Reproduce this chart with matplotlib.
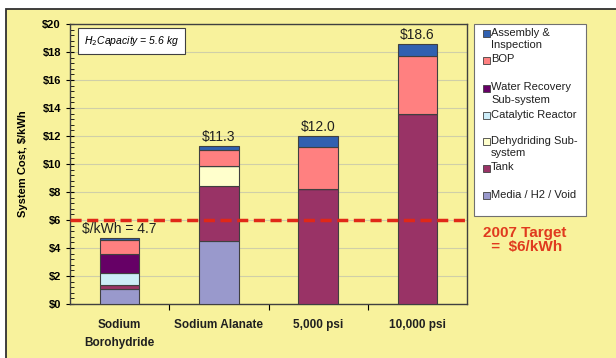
import matplotlib
matplotlib.use("Agg")
import matplotlib.pyplot as plt
import numpy as np
from matplotlib.patches import Rectangle
from matplotlib.ticker import MultipleLocator, FuncFormatter

plt.rcParams['font.family'] = ['Liberation Sans', 'DejaVu Sans']

categories = ["Sodium\nBorohydride", "Sodium Alanate", "5,000 psi", "10,000 psi"]
media = [1.05, 4.5, 0, 0]
tank = [0.3, 3.95, 8.2, 13.6]
dehydriding = [0, 1.4, 0, 0]
catalytic = [0.85, 0, 0, 0]
water = [1.35, 0, 0, 0]
bop = [1.0, 1.15, 3.05, 4.1]
assembly = [0.15, 0.3, 0.75, 0.9]
totals = [4.7, 11.3, 12.0, 18.6]
total_labels = ["$/kWh = 4.7", "$11.3", "$12.0", "$18.6"]
target = 6

names = ["Media / H2 / Void", "Tank", "Dehydriding Sub-\nsystem", "Catalytic Reactor",
         "Water Recovery\nSub-system", "BOP", "Assembly &\nInspection"]
colors = ['#9999CC', '#993366', '#FFFFCC', '#CCECF8', '#660066', '#FF8080', '#3060B0']
series = [media, tank, dehydriding, catalytic, water, bop, assembly]

bg = '#F8F29C'
fig = plt.figure(figsize=(6.16, 3.58), dpi=100)
fig.patch.set_facecolor('white')
fig.patches.append(Rectangle((6/616, -0.05), 1.1, 1 - 9/358 + 0.05, transform=fig.transFigure,
                             facecolor=bg, edgecolor='#303030', linewidth=1.3, zorder=-5))

ax = fig.add_axes([70/616, 1 - 304/358, 397/616, 280/358])
ax.set_facecolor(bg)
ax.set_zorder(1)

x = np.arange(len(categories))
bottom = np.zeros(len(categories))
for vals, c in zip(series, colors):
    ax.bar(x, vals, 0.4, bottom=bottom, color=c, edgecolor='#404040', linewidth=0.8, zorder=3)
    bottom += np.array(vals)

ax.set_xlim(-0.5, 3.5)
ax.set_ylim(0, 20)
ax.yaxis.set_major_locator(MultipleLocator(2))
ax.yaxis.set_minor_locator(MultipleLocator(0.4))
ax.yaxis.set_major_formatter(FuncFormatter(lambda v, p: "${:.0f}".format(v)))
ax.grid(axis='y', color='#D0CFA8', linewidth=0.8, zorder=1)
ax.tick_params(axis='y', which='major', direction='inout', length=6, labelsize=8, width=0.8)
ax.tick_params(axis='y', which='minor', direction='in', length=3, width=0.6)
for t in ax.get_yticklabels():
    t.set_fontweight('bold')

ax.set_xticks(x)
ax.set_xticklabels(categories, fontsize=8.5, fontweight='bold', color='#202020', linespacing=1.6)
ax.tick_params(axis='x', which='major', length=0, pad=11)
ax.set_xticks([0.5, 1.5, 2.5], minor=True)
ax.tick_params(axis='x', which='minor', direction='out', length=4, width=0.8)
for s in ax.spines.values():
    s.set_color('#404040')
    s.set_linewidth(1.0)

ax.set_ylabel("System Cost, $/kWh", fontsize=8, fontweight='bold', labelpad=10)

ax.axhline(target, color='#E02818', linestyle=(0, (3.2, 1.6)), linewidth=2.5, zorder=4)

for i, (tot, lab) in enumerate(zip(totals, total_labels)):
    ax.text(x[i], tot + 0.15, lab, ha='center', va='bottom', fontsize=10, color='#202020', zorder=5)

ax.text(0.035, 0.965, "$H_2$Capacity = 5.6 kg", transform=ax.transAxes, fontsize=7.5,
        style='italic', ha='left', va='top',
        bbox=dict(boxstyle='square,pad=0.55', facecolor='white', edgecolor='#404040', linewidth=0.8))

fig.text(525/616, 1 - 226/358, "2007 Target\n =  $6/kWh", color='#E03A1E', fontsize=11,
         fontweight='bold', ha='center', va='top', linespacing=1.0, zorder=10)

# legend drawn as a box with swatches
fig.patches.append(Rectangle((474/616, 1 - 216/358), 112/616, 192/358, transform=fig.transFigure,
                             facecolor='white', edgecolor='#707070', linewidth=0.8, zorder=5))
leg_y = [196, 168, 141, 115, 88, 60, 33]
for name, c, yy in zip(names, colors, leg_y):
    fig.patches.append(Rectangle((483/616, 1 - (yy + 3.5)/358), 7/616, 7/358,
                                 transform=fig.transFigure, facecolor=c,
                                 edgecolor='#404040', linewidth=0.6, zorder=6))
    fig.text(491/616, 1 - (yy - 5.5)/358, name, fontsize=8, ha='left', va='top',
             color='#202020', linespacing=1.35, zorder=7)

fig.savefig("out.png", dpi=100)
